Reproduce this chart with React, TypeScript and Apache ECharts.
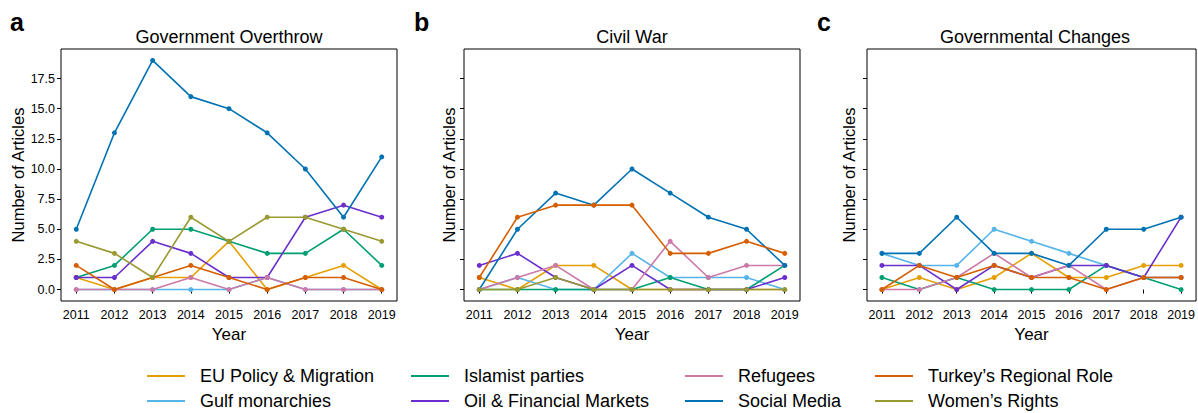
import React, { useEffect, useRef } from "react";
import * as echarts from "echarts";

const years = [2011, 2012, 2013, 2014, 2015, 2016, 2017, 2018, 2019];
const yTicks = [0, 2.5, 5, 7.5, 10, 12.5, 15, 17.5];

const topics = [
  "EU Policy & Migration",
  "Gulf monarchies",
  "Islamist parties",
  "Oil & Financial Markets",
  "Refugees",
  "Social Media",
  "Turkey’s Regional Role",
  "Women’s Rights",
];
const colors = ["#E69F00", "#56B4E9", "#009E73", "#6A2FCC", "#CC79A7", "#0072B2", "#D55E00", "#999933"];

const panelTitles = ["Government Overthrow", "Civil War", "Governmental Changes"];
const panelLetters = ["a", "b", "c"];

// Panel a: Government Overthrow
const overthrowEU = [1, 0, 1, 1, 4, 0, 1, 2, 0];
const overthrowGulf = [0, 0, 0, 0, 0, 1, 0, 0, 0];
const overthrowIslamist = [1, 2, 5, 5, 4, 3, 3, 5, 2];
const overthrowOil = [1, 1, 4, 3, 1, 1, 6, 7, 6];
const overthrowRefugees = [0, 0, 0, 1, 0, 1, 0, 0, 0];
const overthrowSocial = [5, 13, 19, 16, 15, 13, 10, 6, 11];
const overthrowTurkey = [2, 0, 1, 2, 1, 0, 1, 1, 0];
const overthrowWomen = [4, 3, 1, 6, 4, 6, 6, 5, 4];

// Panel b: Civil War
const civilEU = [1, 0, 2, 2, 0, 0, 0, 0, 0];
const civilGulf = [0, 1, 0, 0, 3, 1, 1, 1, 0];
const civilIslamist = [0, 0, 0, 0, 0, 1, 0, 0, 2];
const civilOil = [2, 3, 1, 0, 2, 0, 0, 0, 1];
const civilRefugees = [0, 1, 2, 0, 0, 4, 1, 2, 2];
const civilSocial = [0, 5, 8, 7, 10, 8, 6, 5, 2];
const civilTurkey = [1, 6, 7, 7, 7, 3, 3, 4, 3];
const civilWomen = [0, 0, 1, 0, 0, 0, 0, 0, 0];

// Panel c: Governmental Changes
const changesEU = [0, 1, 0, 1, 3, 1, 1, 2, 2];
const changesGulf = [3, 2, 2, 5, 4, 3, 2, 1, 1];
const changesIslamist = [1, 0, 1, 0, 0, 0, 2, 1, 0];
const changesOil = [2, 2, 0, 2, 1, 2, 2, 1, 6];
const changesRefugees = [0, 0, 1, 3, 1, 2, 0, 1, 1];
const changesSocial = [3, 3, 6, 3, 3, 2, 5, 5, 6];
const changesTurkey = [0, 2, 1, 2, 1, 1, 0, 1, 1];
const changesWomen: number[] = [];

const panels = [
  [overthrowEU, overthrowGulf, overthrowIslamist, overthrowOil, overthrowRefugees, overthrowSocial, overthrowTurkey, overthrowWomen],
  [civilEU, civilGulf, civilIslamist, civilOil, civilRefugees, civilSocial, civilTurkey, civilWomen],
  [changesEU, changesGulf, changesIslamist, changesOil, changesRefugees, changesSocial, changesTurkey, changesWomen],
];

const FONT = "'Liberation Sans', Arial, Helvetica, sans-serif";
const gridLefts = [61, 464, 867];
const gridWidth = 336;
const gridTop = 49;
const gridHeight = 252;
const legendLefts = [147, 411, 685, 875];
const legendTops = [365, 390];

export default function App() {
  const ref = useRef<HTMLDivElement>(null);
  useEffect(() => {
    document.body.style.margin = "0";
    const chart = echarts.init(ref.current!, null, { renderer: "svg" });

    const grids = gridLefts.map((l) => ({
      left: l,
      top: gridTop,
      width: gridWidth,
      height: gridHeight,
      show: true,
      borderColor: "#000",
      borderWidth: 1,
      backgroundColor: "transparent",
    }));

    const xAxes = gridLefts.map((_, i) => ({
      type: "value",
      gridIndex: i,
      min: 2010.6,
      max: 2019.4,
      name: "Year",
      nameLocation: "middle",
      nameGap: 24,
      nameTextStyle: { fontFamily: FONT, fontSize: 17, color: "#000" },
      axisLine: { show: false },
      splitLine: { show: false },
      axisTick: { show: true, length: 4, customValues: years, lineStyle: { color: "#000", width: 1 } },
      axisLabel: {
        customValues: years,
        fontFamily: FONT,
        fontSize: 12.5,
        color: "#000",
        margin: 7,
        formatter: (v: number) => String(v),
      },
    }));

    const yAxes = gridLefts.map((_, i) => ({
      type: "value",
      gridIndex: i,
      min: -0.95,
      max: 19.95,
      name: "Number of Articles",
      nameLocation: "middle",
      nameGap: i === 0 ? 30 : i === 1 ? 7 : 10,
      nameTextStyle: { fontFamily: FONT, fontSize: 16.5, color: "#000" },
      axisLine: { show: false },
      splitLine: { show: false },
      axisTick: { show: true, length: 4, customValues: yTicks, lineStyle: { color: "#000", width: 1 } },
      axisLabel: {
        show: i === 0,
        customValues: yTicks,
        fontFamily: FONT,
        fontSize: 12.5,
        color: "#000",
        margin: 6,
        formatter: (v: number) => v.toFixed(1),
      },
    }));

    const series: any[] = [];
    panels.forEach((panel, p) => {
      panel.forEach((vals, k) => {
        if (!vals.length) return;
        series.push({
          type: "line",
          name: topics[k],
          xAxisIndex: p,
          yAxisIndex: p,
          data: vals.map((v, j) => [years[j], v]),
          color: colors[k],
          lineStyle: { width: 1.6, color: colors[k] },
          itemStyle: { color: colors[k] },
          symbol: "circle",
          symbolSize: 5,
          showSymbol: true,
          z: 2 + k,
        });
      });
    });

    const legends = topics.map((name, k) => ({
      show: true,
      orient: "horizontal",
      left: legendLefts[Math.floor(k / 2)],
      top: legendTops[k % 2],
      padding: 0,
      itemWidth: 38,
      itemHeight: 2,
      icon: "rect",
      data: [{ name, icon: "rect" }],
      textStyle: { fontFamily: FONT, fontSize: 18, color: "#000", lineHeight: 22, padding: [0, 0, 0, 10] },
      selectedMode: false,
    }));

    const graphics: any[] = [];
    gridLefts.forEach((l, i) => {
      graphics.push({
        type: "text",
        x: l + gridWidth / 2,
        y: 37,
        style: {
          text: panelTitles[i],
          font: `18px ${FONT}`,
          fill: "#000",
          align: "center",
          verticalAlign: "middle",
        },
      });
      graphics.push({
        type: "text",
        x: [10, 414, 817][i],
        y: 22,
        style: {
          text: panelLetters[i],
          font: `bold 25px ${FONT}`,
          fill: "#000",
          align: "left",
          verticalAlign: "middle",
        },
      });
    });

    chart.setOption({
      animation: false,
      backgroundColor: "#fff",
      grid: grids,
      xAxis: xAxes,
      yAxis: yAxes,
      legend: legends,
      series,
      graphic: graphics,
    });
    return () => chart.dispose();
  }, []);
  return <div ref={ref} style={{ width: 1198, height: 413 }} />;
}
